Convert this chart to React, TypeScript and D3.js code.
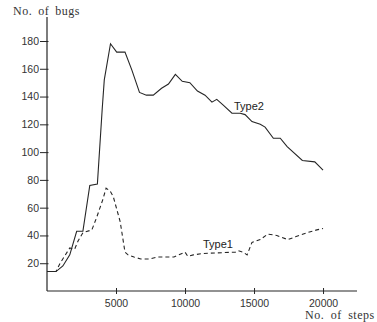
import React, { useRef, useEffect } from "react";
import * as d3 from "d3";

// [steps, bugs]
const type2Steps = [0, 650, 1150, 1650, 2150, 2600, 3100, 3650, 4000, 4150, 4600, 5050, 5650, 6150, 6700, 7200, 7700, 8300, 8800, 9300, 9800, 10350, 10900, 11450, 11950, 12300, 12750, 13400, 14000, 14350, 14850, 15450, 15800, 16400, 16900, 17400, 18500, 19400, 20000];
const type2Bugs = [14, 14, 18, 26, 43, 43, 76, 77, 131, 152, 178, 172, 172, 159, 143, 141, 141, 146, 149, 156, 151, 150, 144, 141, 136, 138, 134, 128, 128, 127, 122, 120, 118, 110, 110, 104, 94, 93, 87];

const type1Steps = [0, 650, 950, 1650, 2000, 2250, 2600, 3250, 3600, 4050, 4280, 4570, 4800, 5300, 5650, 5870, 6300, 6800, 7400, 8000, 8600, 9200, 9650, 10000, 10200, 10600, 11300, 13650, 13850, 14200, 14500, 14850, 15450, 16000, 16650, 16900, 17450, 18000, 18850, 19550, 20000];
const type1Bugs = [14, 14, 20, 31, 30, 36, 42, 44, 53, 66, 74, 72, 68, 50, 28, 26, 24.5, 23, 23, 24.5, 24.5, 24.5, 26.5, 28, 25, 26, 27, 28, 29, 28, 26, 35, 37, 41, 40, 39, 37, 39, 42, 44, 45];

const xTicks = [5000, 10000, 15000, 20000];
const yTicks = [20, 40, 60, 80, 100, 120, 140, 160, 180];

const W = 377;
const H = 322;

const App = () => {
  const svgRef = useRef(null);

  useEffect(() => {
    const svg = d3.select(svgRef.current);
    svg.selectAll("*").remove();

    const x = d3.scaleLinear().domain([0, 22460]).range([47, 357]);
    const y = d3.scaleLinear().domain([0, 180]).range([291, 41]);
    const ink = "#262626";

    svg.append("rect").attr("width", W).attr("height", H).attr("fill", "#fff");

    // axes lines
    svg.append("line")
      .attr("x1", x(0)).attr("x2", x(0))
      .attr("y1", 17).attr("y2", y(0))
      .attr("stroke", ink).attr("stroke-width", 1.2);
    svg.append("line")
      .attr("x1", x(0)).attr("x2", 357)
      .attr("y1", y(0)).attr("y2", y(0))
      .attr("stroke", ink).attr("stroke-width", 1.2);

    // y ticks
    const yAxis = svg.append("g")
      .attr("transform", `translate(${x(0)},0)`)
      .call(d3.axisLeft(y).tickValues(yTicks).tickSize(7).tickPadding(1));
    yAxis.select(".domain").remove();
    yAxis.selectAll(".tick line").attr("x2", -7).attr("x1", 1.5).attr("stroke", ink);
    yAxis.selectAll(".tick text")
      .attr("fill", "#333")
      .style("font-family", "'Liberation Sans', Arial, sans-serif")
      .style("font-size", "10.5px");

    // x ticks
    const xAxis = svg.append("g")
      .attr("transform", `translate(0,${y(0)})`)
      .call(d3.axisBottom(x).tickValues(xTicks).tickSize(3).tickPadding(6).tickFormat(d3.format("d")));
    xAxis.select(".domain").remove();
    xAxis.selectAll(".tick line").attr("y1", -3).attr("y2", 3).attr("stroke", ink);
    xAxis.selectAll(".tick text")
      .attr("fill", "#333")
      .style("font-family", "'Liberation Sans', Arial, sans-serif")
      .style("font-size", "10.5px");

    const line = d3.line()
      .x((d) => x(d[0]))
      .y((d) => y(d[1]));

    const t2 = type2Steps.map((s, i) => [s, type2Bugs[i]]);
    const t1 = type1Steps.map((s, i) => [s, type1Bugs[i]]);

    svg.append("path")
      .datum(t2)
      .attr("d", line)
      .attr("fill", "none")
      .attr("stroke", ink)
      .attr("stroke-width", 1.1);

    svg.append("path")
      .datum(t1)
      .attr("d", line)
      .attr("fill", "none")
      .attr("stroke", ink)
      .attr("stroke-width", 1.1)
      .attr("stroke-dasharray", "4,3");

    // series labels
    svg.append("text")
      .attr("x", 234).attr("y", 110)
      .attr("fill", "#222")
      .style("font-family", "'Liberation Sans', Arial, sans-serif")
      .style("font-size", "11px")
      .text("Type2");
    svg.append("text")
      .attr("x", 203).attr("y", 248)
      .attr("fill", "#222")
      .style("font-family", "'Liberation Sans', Arial, sans-serif")
      .style("font-size", "11px")
      .text("Type1");

    // axis titles
    svg.append("text")
      .attr("x", 13).attr("y", 15)
      .attr("fill", "#333")
      .style("font-family", "'Liberation Serif', 'Times New Roman', serif")
      .style("font-size", "12px")
      .style("letter-spacing", "0.5px")
      .style("word-spacing", "2.5px")
      .text("No. of bugs");
    svg.append("text")
      .attr("x", 305).attr("y", 319)
      .attr("fill", "#333")
      .style("font-family", "'Liberation Serif', 'Times New Roman', serif")
      .style("font-size", "12px")
      .style("letter-spacing", "0.5px")
      .style("word-spacing", "3px")
      .text("No. of steps");
  }, []);

  return (
    <svg
      ref={svgRef}
      width={W}
      height={H}
      style={{ position: "absolute", left: 0, top: 0 }}
    ></svg>
  );
};

export default App;
